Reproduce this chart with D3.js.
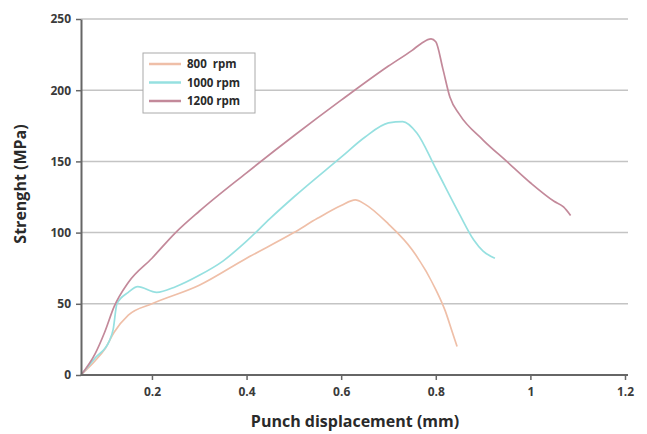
<!DOCTYPE html>
<html>
<head>
<meta charset="utf-8">
<script src="https://cdn.jsdelivr.net/npm/d3@7"></script>
<style>
  body { margin: 0; background: #fff; }
  text { font-family: "Open Sans", "Liberation Sans", sans-serif; }
</style>
</head>
<body>
<div id="container"></div>
<script>
// punch displacement (mm) / strength (MPa)
const x800 = [0.05, 0.08, 0.10, 0.12, 0.15, 0.20, 0.30, 0.40, 0.50, 0.55, 0.60, 0.63, 0.65, 0.70, 0.75, 0.80, 0.82, 0.835, 0.845];
const y800 = [0, 10, 18, 30, 42, 50, 63, 82, 100, 110, 119, 123, 120, 106, 88, 60, 45, 30, 20];

const x1000 = [0.05, 0.08, 0.11, 0.118, 0.126, 0.15, 0.17, 0.21, 0.25, 0.30, 0.35, 0.40, 0.45, 0.50, 0.60, 0.65, 0.70, 0.73, 0.76, 0.80, 0.85, 0.88, 0.90, 0.925];
const y1000 = [0, 12, 24, 32, 50, 58, 62, 58, 62, 70, 80, 94, 110, 125, 153, 167, 177, 178, 170, 145, 113, 95, 87, 82];

const x1200 = [0.05, 0.08, 0.10, 0.12, 0.15, 0.20, 0.25, 0.30, 0.40, 0.50, 0.60, 0.70, 0.75, 0.77, 0.79, 0.80, 0.815, 0.83, 0.85, 0.90, 0.95, 1.00, 1.05, 1.07, 1.085];
const y1200 = [0, 15, 30, 48, 65, 82, 100, 115, 142, 168, 193, 217, 228, 233, 236, 234, 215, 195, 183, 165, 150, 135, 122, 118, 112];

const seriesNames = ['800  rpm', '1000 rpm', '1200 rpm'];
const seriesColors = ['#efbfa8', '#96e0e0', '#c3899a'];
const xTicks = [0.2, 0.4, 0.6, 0.8, 1, 1.2];
const yTicks = [0, 50, 100, 150, 200, 250];

const width = 647, height = 434;
const margin = { left: 81, right: 22, top: 19, bottom: 59 };

const svg = d3.select('#container').append('svg')
    .attr('width', width)
    .attr('height', height);

const x = d3.scaleLinear().domain([0.05, 1.2]).range([margin.left, width - margin.right]);
const y = d3.scaleLinear().domain([0, 250]).range([height - margin.bottom, margin.top]);

// grid
svg.append('g')
   .selectAll('line')
   .data(yTicks.filter(d => d > 0))
   .enter()
   .append('line')
   .attr('x1', margin.left)
   .attr('x2', width - margin.right + 3)
   .attr('y1', d => y(d))
   .attr('y2', d => y(d))
   .attr('stroke', '#c4c4c4')
   .attr('stroke-width', 1.5);

const line = d3.line()
    .x(d => x(d[0]))
    .y(d => y(d[1]))
    .curve(d3.curveMonotoneX);

const series = [
    d3.zip(x800, y800),
    d3.zip(x1000, y1000),
    d3.zip(x1200, y1200)
];

svg.append('g')
   .selectAll('path')
   .data(series)
   .enter()
   .append('path')
   .attr('d', d => line(d))
   .attr('fill', 'none')
   .attr('stroke', (d, i) => seriesColors[i])
   .attr('stroke-width', 1.7);

// axes
const xAxis = svg.append('g')
    .attr('transform', `translate(0,${y(0)})`)
    .call(d3.axisBottom(x).tickValues(xTicks).tickSize(5).tickSizeOuter(0).tickPadding(7).tickFormat(d3.format('')));
const yAxis = svg.append('g')
    .attr('transform', `translate(${margin.left},0)`)
    .call(d3.axisLeft(y).tickValues(yTicks).tickSize(5).tickSizeOuter(0).tickPadding(5));

[xAxis, yAxis].forEach(ax => {
    ax.select('.domain').attr('stroke', '#666').attr('stroke-width', 2);
    ax.selectAll('.tick line').attr('stroke', '#666').attr('stroke-width', 1.5);
    ax.selectAll('.tick text')
      .attr('fill', '#3a3a3a')
      .style('font-size', '12px')
      .style('font-weight', 'bold');
});
xAxis.select('.domain').attr('d', `M${margin.left},0H${width - margin.right + 3}`);

svg.append('text')
   .attr('x', 355)
   .attr('y', 427)
   .attr('text-anchor', 'middle')
   .attr('fill', '#2a2a2a')
   .style('font-size', '16px')
   .style('font-weight', 'bold')
   .text('Punch displacement (mm)');

svg.append('text')
   .attr('transform', 'translate(26,184) rotate(-90)')
   .attr('text-anchor', 'middle')
   .attr('fill', '#2a2a2a')
   .style('font-size', '16px')
   .style('font-weight', 'bold')
   .text('Strenght (MPa)');

// legend
const legend = svg.append('g').attr('transform', 'translate(143,53)');
legend.append('rect')
      .attr('width', 112)
      .attr('height', 60)
      .attr('fill', '#fff')
      .attr('stroke', '#aaa')
      .attr('stroke-width', 1);

const items = legend.selectAll('g.item')
    .data(seriesNames)
    .enter()
    .append('g')
    .attr('class', 'item')
    .attr('transform', (d, i) => `translate(0,${11 + i * 18.5})`);
items.append('line')
     .attr('x1', 6)
     .attr('x2', 38)
     .attr('stroke', (d, i) => seriesColors[i])
     .attr('stroke-width', 2.5);
items.append('text')
     .attr('x', 44)
     .attr('dy', '0.35em')
     .attr('fill', '#2a2a2a')
     .style('font-size', '11.5px')
     .style('font-weight', 'bold')
     .style('white-space', 'pre')
     .text(d => d);
</script>
</body>
</html>
